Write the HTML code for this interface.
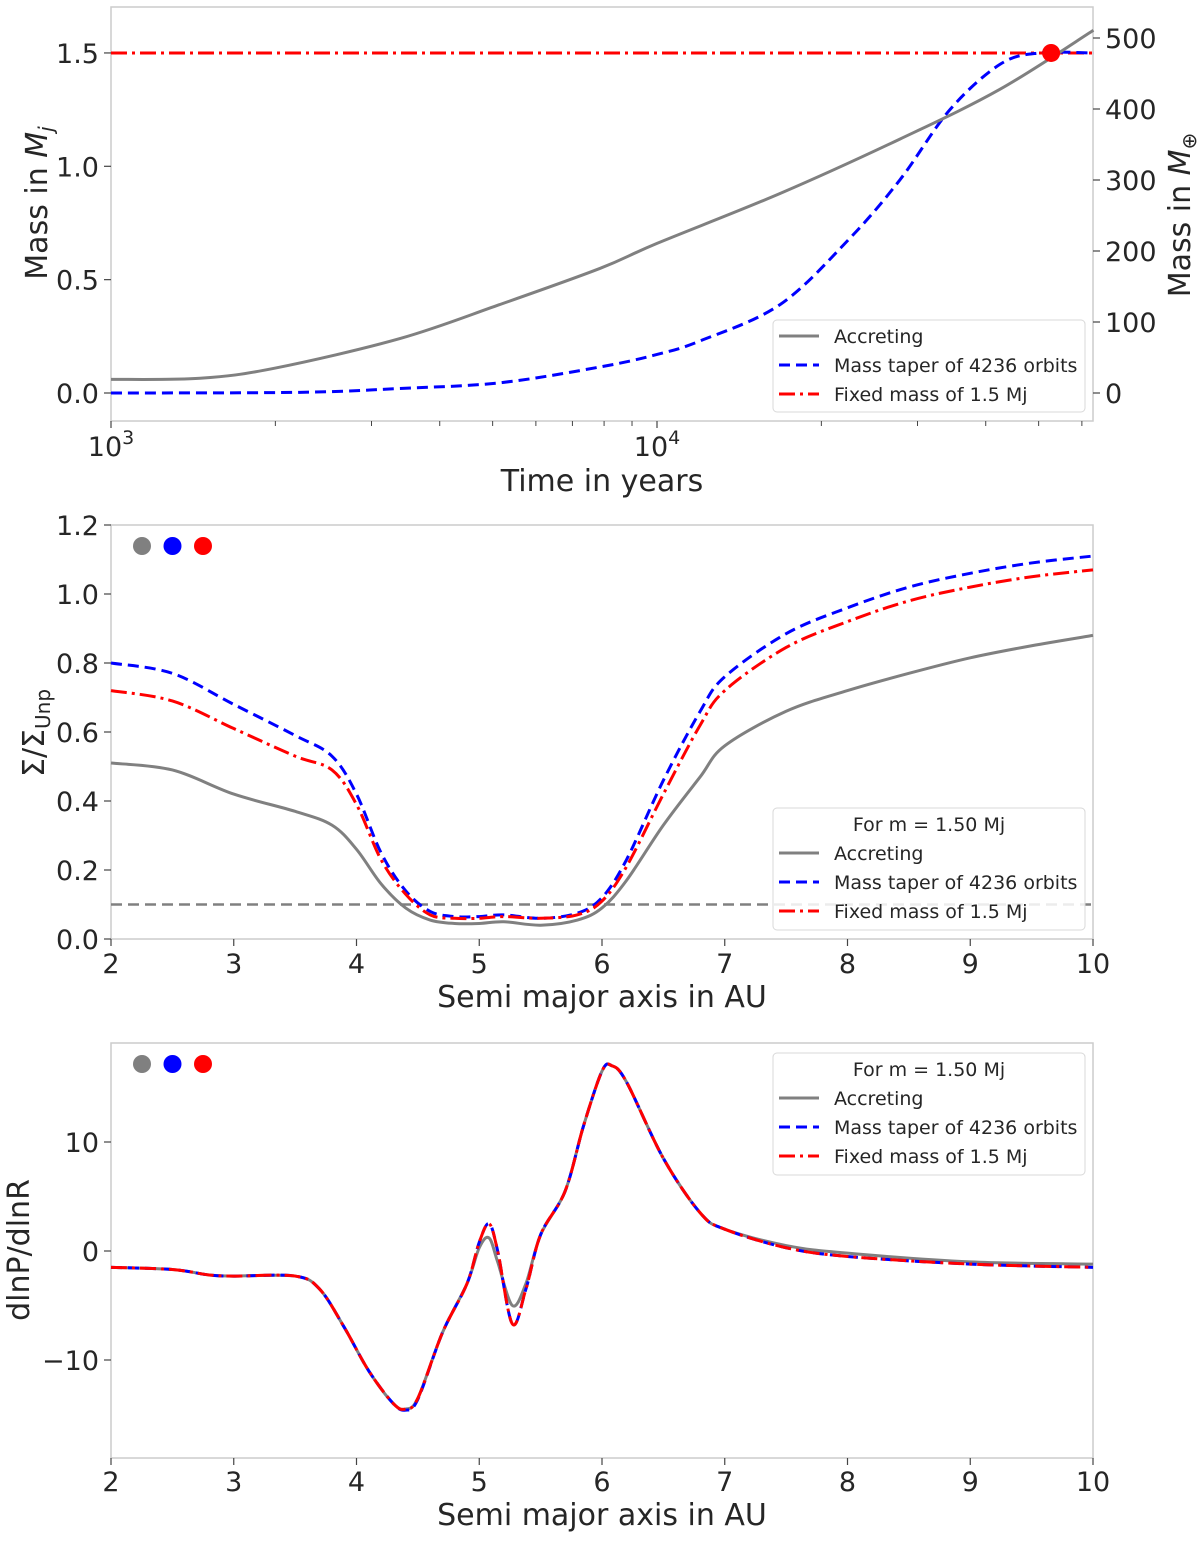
<!DOCTYPE html>
<html><head><meta charset="utf-8"><style>
html,body{margin:0;padding:0;background:#fff}
svg{display:block;font-family:"DejaVu Sans","Liberation Sans",sans-serif;fill:#262626}
</style></head><body>
<svg id="chart" width="1200" height="1544" viewBox="0 0 1200 1544"></svg>
<script>
// Panel 1 data
const timeYears=[1000,1456,2000,3381,5150,7870,10000,16800,27850,42500,63000];
const massAccreting=[0.06,0.065,0.11,0.24,0.39,0.55,0.66,0.88,1.12,1.34,1.6];
const timeTaper=[1000,2219,3381,5150,7870,10000,12000,16800,22500,27850,34400,42500,50200,63000];
const massTaper=[0,0.003,0.02,0.045,0.115,0.17,0.23,0.39,0.68,0.94,1.25,1.45,1.5,1.5];
const fixedMass=1.5;
const markerTime=52700;
const yTicks1=[0,0.5,1.0,1.5];
const yTicks1R=[0,100,200,300,400,500];
// Panel 2 data
const aSigma=[2,2.5,3,3.5,3.8,4,4.2,4.4,4.6,4.8,5,5.2,5.5,5.8,6,6.2,6.5,6.8,7,7.5,8,8.5,9,9.5,10];
const sigAccreting=[0.51,0.49,0.42,0.37,0.33,0.26,0.16,0.09,0.055,0.045,0.045,0.05,0.04,0.055,0.09,0.17,0.33,0.47,0.56,0.66,0.72,0.77,0.815,0.85,0.88];
const sigTaper=[0.80,0.77,0.68,0.59,0.53,0.42,0.25,0.14,0.08,0.065,0.065,0.07,0.06,0.075,0.12,0.23,0.46,0.66,0.76,0.885,0.96,1.02,1.06,1.09,1.11];
const sigFixed=[0.72,0.69,0.61,0.53,0.49,0.39,0.23,0.13,0.07,0.06,0.06,0.065,0.06,0.07,0.11,0.21,0.42,0.62,0.72,0.845,0.92,0.98,1.02,1.05,1.07];
const sigThreshold=0.1;
const yTicks2=[0,0.2,0.4,0.6,0.8,1.0,1.2];
const xTicksA=[2,3,4,5,6,7,8,9,10];
// Panel 3 data
const aP=[2,2.5,2.8,3,3.5,3.7,3.9,4.1,4.3,4.4,4.5,4.7,4.9,5.0,5.08,5.15,5.27,5.38,5.5,5.7,5.85,6.0,6.08,6.2,6.5,6.8,7,7.5,8,9,10];
const pAccreting=[-1.5,-1.7,-2.2,-2.3,-2.3,-3.5,-7,-11,-14,-14.5,-13.5,-7.5,-3,0.3,1.2,-1,-5,-3,1.5,5.5,11.5,16.5,17,15.5,8.5,3.5,2,0.5,-0.2,-1,-1.2];
const pTaper=[-1.5,-1.7,-2.2,-2.3,-2.3,-3.5,-7,-11,-14,-14.6,-13.6,-7.5,-3,0.8,2.5,0,-6.7,-3.5,1.5,5.5,11.5,16.5,17,15.5,8.5,3.5,2,0.3,-0.5,-1.2,-1.5];
const pFixed=[-1.5,-1.7,-2.2,-2.3,-2.3,-3.5,-7,-11,-14,-14.5,-13.5,-7.5,-3,0.8,2.5,0,-6.7,-3.5,1.5,5.5,11.5,16.5,17,15.5,8.5,3.5,2,0.3,-0.5,-1.2,-1.5];
const yTicks3=[-10,0,10];

const NS="http://www.w3.org/2000/svg";
const svg=document.getElementById('chart');
function el(tag,attrs,parent,text){const e=document.createElementNS(NS,tag);for(const k in attrs)e.setAttribute(k,attrs[k]);if(text!==undefined)e.textContent=text;(parent||svg).appendChild(e);return e;}
function smoothPath(pts){let d=`M${pts[0][0]},${pts[0][1]}`;for(let i=0;i<pts.length-1;i++){const p0=pts[Math.max(0,i-1)],p1=pts[i],p2=pts[i+1],p3=pts[Math.min(pts.length-1,i+2)];const c1x=p1[0]+(p2[0]-p0[0])/6,c1y=p1[1]+(p2[1]-p0[1])/6,c2x=p2[0]-(p3[0]-p1[0])/6,c2y=p2[1]-(p3[1]-p1[1])/6;d+=` C${c1x},${c1y} ${c2x},${c2y} ${p2[0]},${p2[1]}`;}return d;}
const L=111,R=1093;
const GRAY='#808080',BLUE='#0000ff',RED='#ff0000';
const styles={gray:{stroke:GRAY,w:3,dash:''},blue:{stroke:BLUE,w:3,dash:'11,6'},red:{stroke:RED,w:3,dash:'16,5,3,5'}};
function frame(top,bot,name){el('rect',{x:L,y:top,width:R-L,height:bot-top,fill:'none',stroke:'#cccccc','stroke-width':1.5,});}
function line(xs,ys,fx,fy,st,name){const p=el('path',{d:smoothPath(xs.map((x,i)=>[fx(x),fy(ys[i])])),fill:'none',stroke:st.stroke,'stroke-width':st.w,'stroke-dasharray':st.dash});

}
function legend(x,y,h,title,name){const g=el('g',{});el('rect',{x:x,y:y,width:312,height:h,rx:4,fill:'#fff','fill-opacity':0.85,stroke:'#d8d8d8'},g);let yy=y+16;if(title){el('text',{x:x+156,y:yy+7,'font-size':19,'text-anchor':'middle'},g,title);yy+=29;}
const labels=[['gray','Accreting'],['blue','Mass taper of 4236 orbits'],['red','Fixed mass of 1.5 Mj']];
labels.forEach(([k,t])=>{const s=styles[k];const e=el('g',{},g);el('line',{x1:x+6,x2:x+46,y1:yy,y2:yy,stroke:s.stroke,'stroke-width':3,'stroke-dasharray':s.dash},e);el('text',{x:x+61,y:yy+7,'font-size':19},e,t);yy+=29;});}
function dots(y,name){const g=el('g',{});[GRAY,BLUE,RED].forEach((c,i)=>el('circle',{cx:142+i*30.5,cy:y,r:9,fill:c},g));}

// ---- Panel 1 ----
const T1=7,B1=421;
const fx1=t=>L+(Math.log10(t)-3)*546;
const fy1=m=>393-m*226.7;
const fyR=me=>393-me*0.71;
frame(T1,B1,'panel1');
yTicks1.forEach(v=>{const y=fy1(v);el('line',{x1:L-7,x2:L,y1:y,y2:y,stroke:'#444','stroke-width':1.2});el('text',{x:L-12,y:y+10,'font-size':27,'text-anchor':'end'},undefined,v.toFixed(1));});
yTicks1R.forEach(v=>{const y=fyR(v);el('line',{x1:R,x2:R+7,y1:y,y2:y,stroke:'#444','stroke-width':1.2});el('text',{x:R+12,y:y+10,'font-size':27},undefined,String(v));});
[1000,10000].forEach(v=>{const x=fx1(v);el('line',{x1:x,x2:x,y1:B1,y2:B1+7,stroke:'#444','stroke-width':1.2});const t=el('text',{x:x,y:B1+35,'font-size':27,'text-anchor':'middle'},undefined,'10');el('tspan',{dy:-12,'font-size':19},t,String(Math.log10(v)));});
[2,3,4,5,6,7,8,9,20,30,40,50,60].forEach(m=>{const x=fx1(m*1000);el('line',{x1:x,x2:x,y1:B1,y2:B1+5,stroke:'#444','stroke-width':1});});
el('text',{x:602,y:491,'font-size':30,'text-anchor':'middle',},undefined,'Time in years');
const yl=el('text',{transform:'translate(47,203) rotate(-90)','font-size':30,'text-anchor':'middle',},undefined,'Mass in ');el('tspan',{'font-style':'italic'},yl,'M');el('tspan',{'font-style':'italic','font-size':20,dy:6},yl,'j');
const yr=el('text',{transform:'translate(1190,215) rotate(-90)','font-size':30,'text-anchor':'middle',},undefined,'Mass in ');el('tspan',{'font-style':'italic'},yr,'M');el('tspan',{'font-size':20,dy:6},yr,'⊕');
const fl=el('line',{x1:L,x2:R,y1:fy1(fixedMass),y2:fy1(fixedMass),stroke:RED,'stroke-width':3,'stroke-dasharray':'16,5,3,5'});
line(timeTaper,massTaper,fx1,fy1,styles.blue,'mass-taper-line');
line(timeYears,massAccreting,fx1,fy1,styles.gray,'accreting-line');
el('circle',{cx:fx1(markerTime),cy:fy1(fixedMass),r:9,fill:RED,});
legend(773,320,92,null,'legend-panel1');

// ---- Panel 2 ----
const T2=525,B2=939;
const fxA=a=>L+(a-2)*122.75;
const fy2=v=>B2-v*345;
frame(T2,B2,'panel2');
yTicks2.forEach(v=>{const y=fy2(v);el('line',{x1:L-7,x2:L,y1:y,y2:y,stroke:'#444','stroke-width':1.2});el('text',{x:L-12,y:y+10,'font-size':27,'text-anchor':'end'},undefined,v.toFixed(1));});
xTicksA.forEach(v=>{const x=fxA(v);el('line',{x1:x,x2:x,y1:B2,y2:B2+7,stroke:'#444','stroke-width':1.2});el('text',{x:x,y:B2+34,'font-size':27,'text-anchor':'middle'},undefined,String(v));});
el('text',{x:602,y:1007,'font-size':30,'text-anchor':'middle',},undefined,'Semi major axis in AU');
const sl=el('text',{transform:'translate(44,733) rotate(-90)','font-size':30,'text-anchor':'middle',},undefined,'Σ/Σ');el('tspan',{'font-size':20,dy:6},sl,'Unp');
const th=el('line',{x1:L,x2:R,y1:fy2(sigThreshold),y2:fy2(sigThreshold),stroke:GRAY,'stroke-width':2.5,'stroke-dasharray':'11,6'});
line(aSigma,sigAccreting,fxA,fy2,styles.gray,'sigma-accreting');
line(aSigma,sigTaper,fxA,fy2,styles.blue,'sigma-taper');
line(aSigma,sigFixed,fxA,fy2,styles.red,'sigma-fixed');
dots(546,'color-dots-panel2');
legend(773,808,122,'For m = 1.50 Mj','legend-panel2');

// ---- Panel 3 ----
const T3=1043,B3=1458;
const fy3=v=>1251-v*10.9;
frame(T3,B3,'panel3');
yTicks3.forEach(v=>{const y=fy3(v);el('line',{x1:L-7,x2:L,y1:y,y2:y,stroke:'#444','stroke-width':1.2});el('text',{x:L-12,y:y+10,'font-size':27,'text-anchor':'end'},undefined,v<0?'−'+Math.abs(v):String(v));});
xTicksA.forEach(v=>{const x=fxA(v);el('line',{x1:x,x2:x,y1:B3,y2:B3+7,stroke:'#444','stroke-width':1.2});el('text',{x:x,y:B3+33,'font-size':27,'text-anchor':'middle'},undefined,String(v));});
el('text',{x:602,y:1525,'font-size':30,'text-anchor':'middle',},undefined,'Semi major axis in AU');
el('text',{transform:'translate(29,1250) rotate(-90)','font-size':30,'text-anchor':'middle',},undefined,'dlnP/dlnR');
line(aP,pAccreting,fxA,fy3,styles.gray,'pressure-accreting');
line(aP,pTaper,fxA,fy3,styles.blue,'pressure-taper');
line(aP,pFixed,fxA,fy3,styles.red,'pressure-fixed');
dots(1064,'color-dots-panel3');
legend(773,1053,122,'For m = 1.50 Mj','legend-panel3');
</script>
</body></html>
